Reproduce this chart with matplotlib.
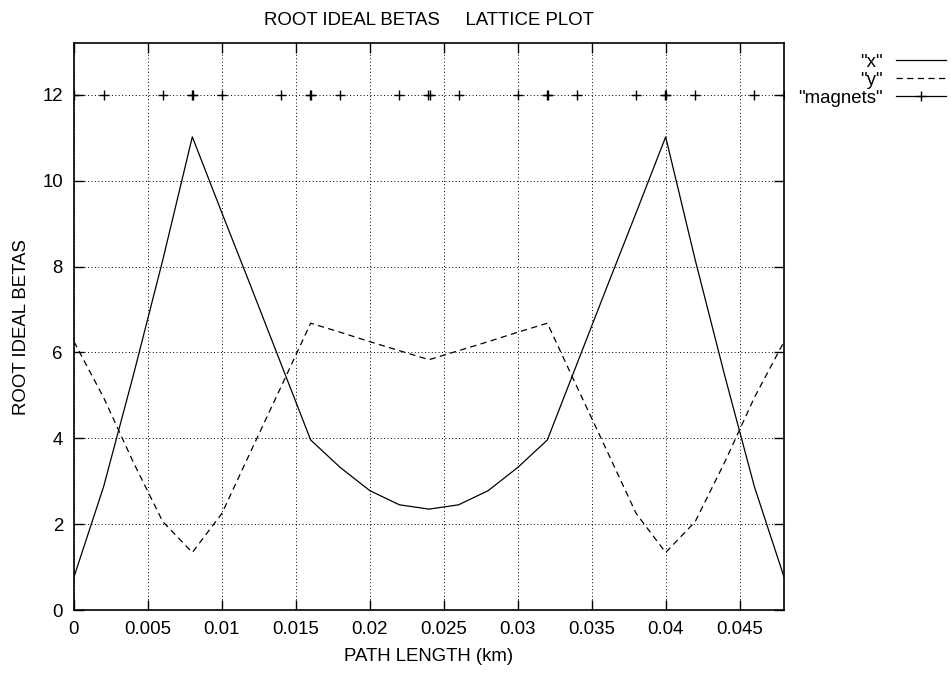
import matplotlib.pyplot as plt
from matplotlib.lines import Line2D
from matplotlib.ticker import MultipleLocator, FormatStrFormatter

plt.rcParams['font.family'] = ['Liberation Sans', 'DejaVu Sans']
FS = 13.4

# path length (km)
s = [0.000, 0.002, 0.004, 0.006, 0.008, 0.010, 0.012, 0.014, 0.016,
     0.018, 0.020, 0.022, 0.024, 0.026, 0.028, 0.030, 0.032, 0.034,
     0.036, 0.038, 0.040, 0.042, 0.044, 0.046, 0.048]
# root ideal betas
beta_x = [0.77, 2.87, 5.45, 8.15, 11.02, 9.25, 7.50, 5.73, 3.96,
          3.32, 2.78, 2.45, 2.35, 2.45, 2.78, 3.32, 3.96, 5.73,
          7.50, 9.25, 11.02, 8.15, 5.45, 2.87, 0.77]
beta_y = [6.25, 4.95, 3.45, 2.06, 1.34, 2.25, 3.73, 5.20, 6.68,
          6.47, 6.25, 6.04, 5.83, 6.04, 6.25, 6.47, 6.68, 5.20,
          3.73, 2.25, 1.34, 2.06, 3.45, 4.95, 6.25]
# magnet positions (thick elements have entry + exit marks)
magnet_s = [0.000, 0.002, 0.006, 0.00795, 0.00805, 0.010, 0.014, 0.01595, 0.01605,
            0.018, 0.022, 0.02395, 0.02405, 0.026, 0.030, 0.03195, 0.03205,
            0.034, 0.038, 0.03995, 0.04005, 0.042, 0.046, 0.048]
magnet_y = [12] * len(magnet_s)

fig = plt.figure(figsize=(9.51, 6.73), dpi=100)
ax = fig.add_axes([0.0778, 0.0936, 0.7466, 0.8421])

ax.plot(s, beta_x, color='black', lw=0.9)
ax.plot(s, beta_y, color='black', lw=0.9, dashes=(5, 3.5))
ax.plot(magnet_s, magnet_y, ls='none', marker='+', color='black', ms=7, mew=1.0)

ax.set_xlim(0, 0.048)
ax.set_ylim(0, 13.2)
ax.xaxis.set_major_locator(MultipleLocator(0.005))
ax.xaxis.set_major_formatter(FormatStrFormatter('%g'))
ax.yaxis.set_major_locator(MultipleLocator(2))
ax.grid(True, color='black', lw=0.7, linestyle=(0, (1, 2.5)))
ax.tick_params(direction='in', length=7, width=1.0, top=True, right=True,
               labelsize=FS, pad=8)
for sp in ax.spines.values():
    sp.set_linewidth(1.2)

ax.set_title('ROOT IDEAL BETAS     LATTICE PLOT', fontsize=FS, pad=13)
ax.set_xlabel('PATH LENGTH (km)', fontsize=FS, labelpad=7)
ax.set_ylabel('ROOT IDEAL BETAS', fontsize=FS, labelpad=9)

handles = [Line2D([], [], color='black', lw=0.9),
           Line2D([], [], color='black', lw=0.9, dashes=(5, 3.5)),
           Line2D([], [], color='black', lw=0.9, marker='+', ms=7, mew=1.0)]
labels = ['"x"', '"y"', '"magnets"']
fig.legend(handles, labels, loc='upper right', bbox_to_anchor=(0.995, 0.92),
           frameon=False, markerfirst=False, fontsize=FS, handlelength=2.7,
           handletextpad=0.7, labelspacing=0.05, borderpad=0, borderaxespad=0)

fig.savefig('out.png', dpi=100)
